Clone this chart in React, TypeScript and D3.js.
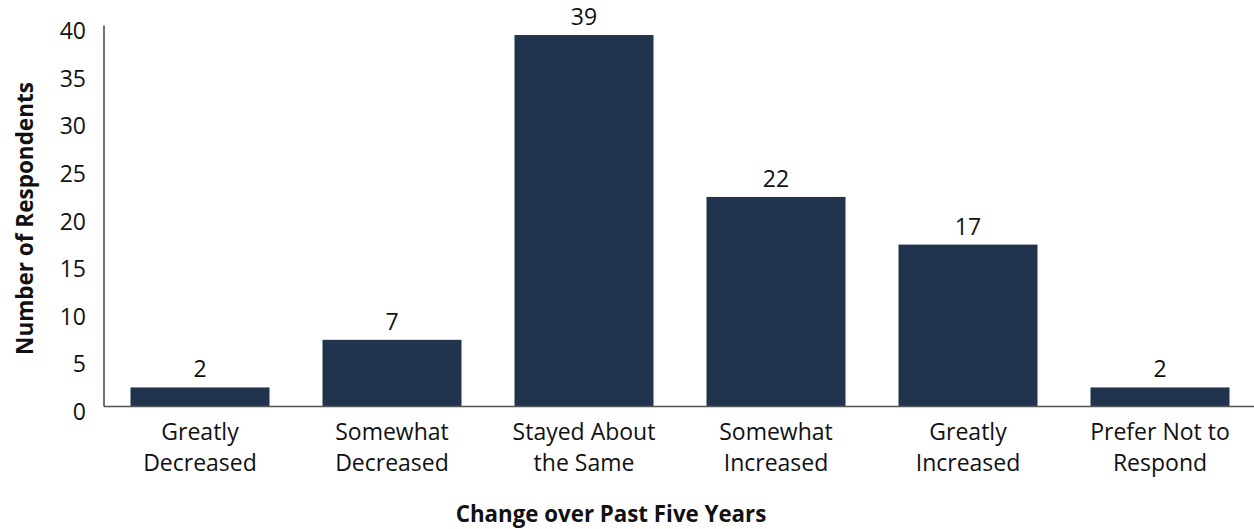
import React from "react";
import * as d3 from "d3";

const categories: string[][] = [
  ["Greatly", "Decreased"],
  ["Somewhat", "Decreased"],
  ["Stayed About", "the Same"],
  ["Somewhat", "Increased"],
  ["Greatly", "Increased"],
  ["Prefer Not to", "Respond"],
];
const values: number[] = [2, 7, 39, 22, 17, 2];
const yTicks: number[] = [0, 5, 10, 15, 20, 25, 30, 35, 40];

const W = 1254;
const H = 529;
const left = 104;
const right = 1256;
const top = 25.5;
const bottom = 406.5;
const font = "'Open Sans', 'Noto Sans', sans-serif";

export default function App() {
  const x = d3
    .scaleBand<number>()
    .domain(values.map((_, i) => i))
    .range([left, right])
    .paddingInner(0.276)
    .paddingOuter(0.138);
  const y = d3.scaleLinear().domain([0, 40]).range([bottom, top]);

  return (
    <svg
      width={W}
      height={H}
      style={{ position: "absolute", left: 0, top: 0, background: "#fff" }}
      fontFamily={font}
    >
      {values.map((v, i) => (
        <g key={i}>
          <rect
            x={x(i)}
            y={y(v)}
            width={x.bandwidth()}
            height={bottom - y(v)}
            fill="#20344d"
          />
          <text
            x={(x(i) as number) + x.bandwidth() / 2}
            y={y(v) - 10}
            textAnchor="middle"
            fontSize={23}
            fill="#111"
          >
            {v}
          </text>
          {categories[i].map((line, j) => (
            <text
              key={j}
              x={(x(i) as number) + x.bandwidth() / 2}
              y={439.5 + j * 31}
              textAnchor="middle"
              fontSize={23}
              fill="#111"
            >
              {line}
            </text>
          ))}
        </g>
      ))}
      <line x1={left} x2={W} y1={bottom} y2={bottom} stroke="#555" strokeWidth={1.5} />
      <line x1={left} x2={left} y1={top} y2={bottom} stroke="#111" strokeWidth={1.2} />
      {yTicks.map((t) => (
        <text
          key={t}
          x={86}
          y={y(t) + 13.5}
          textAnchor="end"
          fontSize={23}
          fill="#111"
        >
          {t}
        </text>
      ))}
      <text
        transform={`translate(33, 218.5) rotate(-90)`}
        textAnchor="middle"
        fontSize={22.5}
        fontWeight="bold"
        fill="#111"
      >
        Number of Respondents
      </text>
      <text
        x={611}
        y={522}
        textAnchor="middle"
        fontSize={22.3}
        fontWeight="bold"
        fill="#111"
      >
        Change over Past Five Years
      </text>
    </svg>
  );
}
